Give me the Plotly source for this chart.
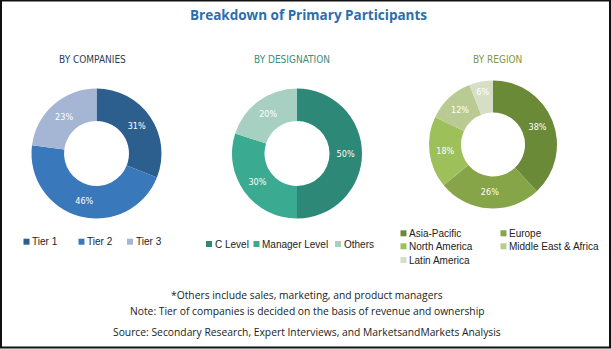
import plotly.graph_objects as go

W, H = 611, 349

# ---- data ----
company_labels = ["Tier 1", "Tier 2", "Tier 3"]
company_values = [31, 46, 23]
designation_labels = ["C Level", "Manager Level", "Others"]
designation_values = [50, 30, 20]
region_labels = ["Asia-Pacific", "Europe", "North America", "Middle East & Africa", "Latin America"]
region_values = [38, 26, 18, 12, 6]

title_text = "Breakdown of Primary Participants"
subtitles = ["BY COMPANIES", "BY DESIGNATION", "BY REGION"]
footer_lines = [
    "*Others include sales, marketing, and product managers",
    "Note: Tier of companies is decided on the basis of revenue and ownership",
    "Source: Secondary Research, Expert Interviews, and MarketsandMarkets Analysis",
]

# ---- styles ----
company_colors = ["#2D5F8E", "#3A78BC", "#A4B6D4"]
designation_colors = ["#2E8877", "#3AAA90", "#A7CFC2"]
region_colors = ["#6A8A38", "#85A548", "#9EC05A", "#B9CB92", "#D6DFC6"]
subtitle_colors = ["#2B3F5C", "#3F8A7A", "#7C9748"]

NARROW = "Liberation Sans Narrow, DejaVu Sans Condensed, Arial Narrow, sans-serif"


def px(x):
    return x / W


def py(y):
    return 1 - y / H


def domain(cx, cy, r):
    return dict(x=[px(cx - r), px(cx + r)], y=[py(cy + r), py(cy - r)])


fig = go.Figure()

pies = [
    (company_labels, company_values, company_colors, (96.5, 153.5, 65)),
    (designation_labels, designation_values, designation_colors, (297, 153.5, 65)),
    (region_labels, region_values, region_colors, (493, 144.5, 64)),
]
for labels, values, colors, (cx, cy, r) in pies:
    fig.add_trace(go.Pie(
        labels=labels, values=values, hole=0.5, sort=False,
        direction="clockwise", rotation=0,
        marker=dict(colors=colors, line=dict(width=0)),
        texttemplate="%{value}%", textposition="inside",
        insidetextorientation="horizontal",
        textfont=dict(color="white", size=9, family=NARROW),
        domain=domain(cx, cy, r), showlegend=False, hoverinfo="label+value",
    ))

annotations = []
shapes = []

# title
annotations.append(dict(x=px(308), y=py(15), xref="paper", yref="paper", text="<b>%s</b>" % title_text,
                        showarrow=False, xanchor="center", yanchor="middle",
                        font=dict(family="Open Sans, sans-serif", size=13.5, color="#2A6EAE")))
# subtitles
sub_x = [92, 292, 497]
for t, x, c in zip(subtitles, sub_x, subtitle_colors):
    annotations.append(dict(x=px(x), y=py(60), xref="paper", yref="paper", text=t, showarrow=False,
                            xanchor="center", yanchor="middle",
                            font=dict(family=NARROW, size=10, color=c)))

# legends (marker left x, center y)
legend_pos = [
    [(26.5, 241.7), (81.5, 241.7), (130, 241.7)],
    [(209, 244), (256.5, 244), (338, 244)],
    [(403.5, 233.3), (503.5, 233.3), (403.5, 246.3), (503.5, 246.3), (403.5, 260)],
]
for (labels, values, colors, _), poss in zip(pies, legend_pos):
    for lab, col, (x, y) in zip(labels, colors, poss):
        shapes.append(dict(type="rect", xref="paper", yref="paper",
                           x0=px(x - 3), x1=px(x + 3), y0=py(y + 3), y1=py(y - 3),
                           fillcolor=col, line=dict(width=0)))
        annotations.append(dict(x=px(x + 3.5), y=py(y), xref="paper", yref="paper", text=lab,
                                showarrow=False, xanchor="left", yanchor="middle",
                                font=dict(family="Liberation Sans, Arial, sans-serif", size=10, color="#222222")))

# footer
for t, y in zip(footer_lines, [295, 311, 331.5]):
    annotations.append(dict(x=px(307), y=py(y), xref="paper", yref="paper", text=t, showarrow=False,
                            xanchor="center", yanchor="middle",
                            font=dict(family="Open Sans, sans-serif", size=10.3, color="#222222")))

# frame
shapes.append(dict(type="rect", xref="paper", yref="paper", x0=px(1), x1=px(610), y0=py(347.5), y1=py(0.5),
                   line=dict(color="#111111", width=2), fillcolor="rgba(0,0,0,0)", layer="above"))

fig.update_layout(
    width=W, height=H, margin=dict(l=0, r=0, t=0, b=0),
    paper_bgcolor="white", plot_bgcolor="white",
    annotations=annotations, shapes=shapes, showlegend=False,
)

fig.write_html("out.html", config={"displayModeBar": False})
